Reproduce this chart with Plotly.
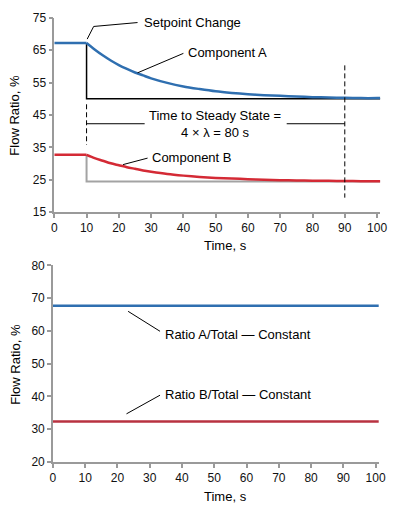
import plotly.graph_objects as go

# ---- data ----
time_s = [0, 10, 12.5, 15, 17.5, 20, 22.5, 25, 27.5, 30, 35, 40, 45, 50, 55, 60,
          65, 70, 75, 80, 85, 90, 95, 100, 101]
comp_a = [67.2, 67.2, 65.2, 63.4, 61.8, 60.4, 59.2, 58.1, 57.2, 56.3, 54.9, 53.8,
          53.0, 52.3, 51.8, 51.4, 51.1, 50.9, 50.7, 50.5, 50.4, 50.3, 50.2, 50.2, 50.2]
comp_b = [32.7, 32.7, 31.7, 30.9, 30.1, 29.5, 28.9, 28.4, 27.9, 27.5, 26.8, 26.3,
          25.9, 25.6, 25.4, 25.2, 25.0, 24.9, 24.8, 24.75, 24.7, 24.65, 24.6, 24.6, 24.6]

setpoint_time = 10
t_end = 101
sp_a_old, sp_a_new = 67.2, 50.0
sp_b_old, sp_b_new = 32.7, 24.5

ratio_time = [0, 101]
ratio_a = [67.7, 67.7]
ratio_b = [32.4, 32.4]

x_ticks = [0, 10, 20, 30, 40, 50, 60, 70, 80, 90, 100]
y_ticks_top = [15, 25, 35, 45, 55, 65, 75]
y_ticks_bot = [20, 30, 40, 50, 60, 70, 80]

BLUE = "#2f6fb0"
RED_TOP = "#d42a35"
RED_BOT = "#b83240"
GREY = "#a3a3a3"
AXIS = "#9a9a9a"
FONT = "Liberation Sans, Arial, sans-serif"

fig = go.Figure()

# top chart
fig.add_trace(go.Scatter(x=[setpoint_time, setpoint_time, t_end], y=[sp_a_old, sp_a_new, sp_a_new],
                         mode="lines", line=dict(color="#000000", width=1.5),
                         xaxis="x", yaxis="y", showlegend=False))
fig.add_trace(go.Scatter(x=[setpoint_time, setpoint_time, t_end], y=[sp_b_old, sp_b_new, sp_b_new],
                         mode="lines", line=dict(color=GREY, width=2),
                         xaxis="x", yaxis="y", showlegend=False))
# flat part (before step) and decay part (after step) of each component
for ys, col in ((comp_a, BLUE), (comp_b, RED_TOP)):
    fig.add_trace(go.Scatter(x=time_s[:2], y=ys[:2], mode="lines", line=dict(color=col, width=2.5),
                             xaxis="x", yaxis="y", showlegend=False))
    fig.add_trace(go.Scatter(x=time_s[1:], y=ys[1:], mode="lines",
                             line=dict(color=col, width=2.5, shape="spline", smoothing=0.8),
                             xaxis="x", yaxis="y", showlegend=False))

# bottom chart
fig.add_trace(go.Scatter(x=ratio_time, y=ratio_a, mode="lines", line=dict(color=BLUE, width=2.5),
                         xaxis="x2", yaxis="y2", showlegend=False))
fig.add_trace(go.Scatter(x=ratio_time, y=ratio_b, mode="lines", line=dict(color=RED_BOT, width=2.5),
                         xaxis="x2", yaxis="y2", showlegend=False))

axis_common = dict(showgrid=False, zeroline=False, showline=True, linecolor=AXIS, linewidth=1.5,
                   ticks="outside", ticklen=4, tickcolor=AXIS, tickwidth=1.5,
                   tickfont=dict(family=FONT, size=12, color="#111"))

fig.update_layout(
    width=399, height=515,
    margin=dict(l=0, r=0, t=0, b=0),
    paper_bgcolor="white", plot_bgcolor="white",
    xaxis=dict(domain=[52.6/399, 387/399], range=[0, 101], tickvals=x_ticks, anchor="y", **axis_common),
    yaxis=dict(domain=[1-211/515, 1-11/515], range=[15, 75], tickvals=y_ticks_top, anchor="x", **axis_common),
    xaxis2=dict(domain=[51.2/399, 385.5/399], range=[0, 101], tickvals=x_ticks, anchor="y2", **axis_common),
    yaxis2=dict(domain=[1-467.7/515, 1-265.7/515], range=[20, 80], tickvals=y_ticks_bot, anchor="x2", **axis_common),
)

line_k = dict(color="#000000", width=1)
dash_k = dict(color="#000000", width=1, dash="5px,3px")
shapes = [
    # dashed markers
    dict(type="line", xref="x", yref="y", x0=10, x1=10, y0=48.3, y1=35.8, line=dash_k),
    dict(type="line", xref="x", yref="y", x0=90, x1=90, y0=60.3, y1=19.5, line=dash_k),
    # bracket lines
    dict(type="line", xref="x", yref="y", x0=10, x1=28, y0=42.3, y1=42.3, line=line_k),
    dict(type="line", xref="x", yref="y", x0=72, x1=90, y0=42.3, y1=42.3, line=line_k),
    # leaders
    dict(type="path", xref="x", yref="y", path="M 10.2,68.4 L 12.2,72.3 L 25.8,73.5", line=line_k),
    dict(type="line", xref="x", yref="y", x0=25.8, y0=58.0, x1=40.0, y1=64.0, line=line_k),
    dict(type="line", xref="x", yref="y", x0=21.3, y0=29.7, x1=28.9, y1=31.7, line=line_k),
    dict(type="line", xref="x2", yref="y2", x0=23.3, y0=66.0, x1=33.2, y1=59.9, line=line_k),
    dict(type="line", xref="x2", yref="y2", x0=22.8, y0=34.7, x1=33.2, y1=40.4, line=line_k),
]
fig.update_layout(shapes=shapes)

tf = dict(family=FONT, size=13, color="#000")
ann = [
    dict(xref="x", yref="y", x=27.3, y=73.5, text="Setpoint Change", xanchor="left", yanchor="middle"),
    dict(xref="x", yref="y", x=40.8, y=64.4, text="Component A", xanchor="left", yanchor="middle"),
    dict(xref="x", yref="y", x=29.8, y=32.0, text="Component B", xanchor="left", yanchor="middle"),
    dict(xref="x", yref="y", x=49.8, y=42.3, text="Time to Steady State =<br>4 × λ = 80 s",
         xanchor="center", yanchor="middle"),
    dict(xref="x2", yref="y2", x=34.2, y=58.8, text="Ratio A/Total — Constant", xanchor="left", yanchor="middle"),
    dict(xref="x2", yref="y2", x=34.2, y=40.6, text="Ratio B/Total — Constant", xanchor="left", yanchor="middle"),
    # axis titles
    dict(xref="paper", yref="paper", x=228/399, y=1-245/515, text="Time, s", xanchor="center", yanchor="middle"),
    dict(xref="paper", yref="paper", x=228/399, y=1-503/515, text="Time, s", xanchor="center", yanchor="middle"),
    dict(xref="paper", yref="paper", x=12/399, y=1-111/515, text="Flow Ratio, %", textangle=-90,
         xanchor="center", yanchor="middle"),
    dict(xref="paper", yref="paper", x=12/399, y=1-367/515, text="Flow Ratio, %", textangle=-90,
         xanchor="center", yanchor="middle"),
]
for a in ann:
    a.update(showarrow=False, font=tf)
fig.update_layout(annotations=ann)

fig.write_html("out.html", config={"displayModeBar": False},
               post_script="document.body.style.margin='0';document.body.style.overflow='hidden';")
